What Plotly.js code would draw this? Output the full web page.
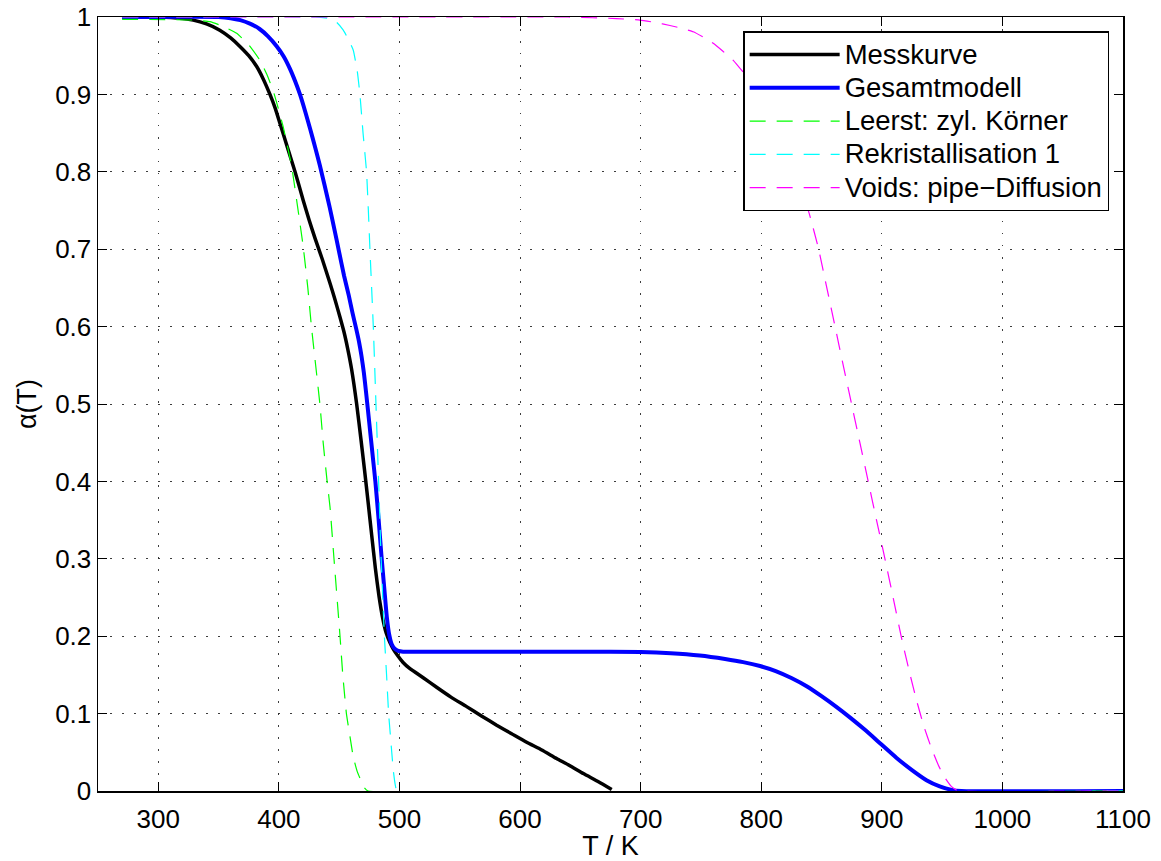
<!DOCTYPE html>
<html>
<head>
<meta charset="utf-8">
<script src="https://cdn.plot.ly/plotly-3.0.1.min.js"></script>
<style>html,body{margin:0;padding:0;background:#fff;}#chart{width:1161px;height:861px;}</style>
</head>
<body>
<div id="chart"></div>
<script>
// Messkurve (measured)
const messT = [270, 300, 320, 329, 340, 351, 360, 367.7, 375, 381.6, 387, 392.6, 397, 401, 407.8, 413.4, 420.2, 425, 430, 436, 442.4, 446.5, 450.7, 454, 457, 460.3, 464.5, 468, 471, 474, 477, 480, 483, 486, 489, 492, 495, 498, 503, 508.7, 520, 530.8, 543, 555.7, 568, 580.6, 593, 605.5, 618, 630.3, 641, 652.5, 665, 676];
const messA = [1, 1, 0.998, 0.996, 0.991, 0.983, 0.973, 0.962, 0.95, 0.936, 0.92, 0.9, 0.882, 0.862, 0.828, 0.8, 0.763, 0.738, 0.714, 0.687, 0.656, 0.635, 0.612, 0.593, 0.572, 0.545, 0.5, 0.455, 0.415, 0.373, 0.33, 0.288, 0.252, 0.224, 0.204, 0.192, 0.183, 0.176, 0.166, 0.158, 0.146, 0.134, 0.121, 0.109, 0.097, 0.085, 0.074, 0.063, 0.053, 0.042, 0.033, 0.0225, 0.012, 0.002];

// Gesamtmodell
const gesT = [270, 350, 360, 368, 376, 384, 391, 398, 404, 409.2, 413.5, 417.5, 422, 426, 430, 434, 438, 442, 446, 450, 454, 458, 461, 464, 466.5, 468.5, 470.5, 472.3, 474, 476, 478, 480, 482.5, 485, 487.5, 489.5, 491.5, 493.5, 496, 499, 503, 550, 600, 650, 700, 725, 749, 770, 785, 799, 812, 825, 838, 850, 862, 874, 886, 899, 912, 925, 937, 948, 958, 966, 1100];
const gesA = [1, 1, 0.9985, 0.996, 0.9915, 0.9845, 0.975, 0.9625, 0.949, 0.933, 0.917, 0.9, 0.877, 0.855, 0.832, 0.808, 0.782, 0.755, 0.726, 0.696, 0.666, 0.64, 0.618, 0.598, 0.58, 0.562, 0.54, 0.515, 0.49, 0.46, 0.43, 0.4, 0.355, 0.305, 0.26, 0.225, 0.202, 0.19, 0.184, 0.181, 0.18, 0.18, 0.18, 0.18, 0.1795, 0.178, 0.175, 0.1705, 0.1665, 0.1615, 0.155, 0.146, 0.135, 0.1225, 0.109, 0.0945, 0.079, 0.061, 0.043, 0.027, 0.014, 0.006, 0.0015, 0, 0];

// Leerst: zyl. Körner
const leerT = [270, 330, 342.9, 355, 365, 375, 384.3, 390, 395.4, 399.5, 403.6, 407.8, 410.6, 415.5, 420.2, 424, 427, 430.5, 434, 436.8, 440, 442.4, 445.7, 450.7, 453, 456, 459, 461.7, 465, 468, 471, 474, 1100];
const leerA = [0.997, 0.996, 0.994, 0.987, 0.979, 0.964, 0.944, 0.926, 0.904, 0.882, 0.858, 0.828, 0.807, 0.755, 0.703, 0.65, 0.6, 0.55, 0.5, 0.449, 0.4, 0.367, 0.3, 0.2, 0.15, 0.1, 0.07, 0.044, 0.025, 0.014, 0.004, 0, 0];

// Rekristallisation 1
const rekT = [270, 430, 442.4, 448, 453.4, 458, 461.7, 465, 467.2, 469.8, 472.7, 474.2, 475.5, 478.3, 480.5, 482.7, 484.8, 487.5, 489.3, 491, 492.3, 493.6, 495, 496.5, 498, 1100];
const rekA = [1, 1, 0.998, 0.993, 0.983, 0.97, 0.957, 0.93, 0.9, 0.85, 0.8, 0.75, 0.7, 0.6, 0.5, 0.4, 0.3, 0.2, 0.15, 0.1, 0.075, 0.05, 0.025, 0.008, 0, 0];

// Voids: pipe-Diffusion
const voidT = [270, 640, 660, 680, 699.4, 712, 724.3, 735, 743.6, 752, 760.2, 768, 776.8, 790, 800, 810, 820, 830, 840, 847.3, 854, 861.1, 868, 874.9, 881.8, 888.7, 895.6, 902.6, 909.5, 916, 923, 929, 935, 941, 947, 952, 957, 961, 964, 1100];
const voidA = [1, 1, 0.999, 0.998, 0.996, 0.993, 0.989, 0.985, 0.981, 0.974, 0.966, 0.956, 0.944, 0.919, 0.896, 0.868, 0.834, 0.795, 0.745, 0.702, 0.653, 0.601, 0.55, 0.5, 0.45, 0.4, 0.35, 0.3, 0.249, 0.2, 0.153, 0.116, 0.083, 0.056, 0.033, 0.018, 0.007, 0.002, 0, 0];

const names = ['Messkurve', 'Gesamtmodell', 'Leerst: zyl. Körner', 'Rekristallisation 1', 'Voids: pipe\u2212Diffusion'];
const xTicks = [300, 400, 500, 600, 700, 800, 900, 1000, 1100];
const yTicks = [0, 0.1, 0.2, 0.3, 0.4, 0.5, 0.6, 0.7, 0.8, 0.9, 1];
const yTickText = ['0', '0.1', '0.2', '0.3', '0.4', '0.5', '0.6', '0.7', '0.8', '0.9', '1'];

const FONT = 'Liberation Sans, Arial, Helvetica, sans-serif';
const dashPat = '16px,11px';
const legendName = n => '<span style="font-size:27.5px">' + n + '</span>';

const traces = [
  {x: messT, y: messA, name: legendName(names[0]), mode: 'lines', line: {color: '#000000', width: 3.5, shape: 'spline', smoothing: 0.5}},
  {x: gesT, y: gesA, name: legendName(names[1]), mode: 'lines', line: {color: '#0000ff', width: 4, shape: 'spline', smoothing: 0.5}},
  {x: leerT, y: leerA, name: legendName(names[2]), mode: 'lines', line: {color: '#00ff00', width: 1.2, dash: dashPat, shape: 'spline', smoothing: 0.4}},
  {x: rekT, y: rekA, name: legendName(names[3]), mode: 'lines', line: {color: '#00ffff', width: 1.2, dash: dashPat, shape: 'spline', smoothing: 0.4}},
  {x: voidT, y: voidA, name: legendName(names[4]), mode: 'lines', line: {color: '#ff00ff', width: 1.2, dash: dashPat, shape: 'spline', smoothing: 0.4}}
];

const axisCommon = {
  showline: true, linecolor: '#000', linewidth: 1.5, mirror: 'ticks',
  ticks: 'inside', ticklen: 9, tickwidth: 1, tickcolor: '#000',
  showgrid: true, gridcolor: 'rgba(40,40,40,0.9)', gridwidth: 1, griddash: '1.5px,10.5px',
  zeroline: false, tickfont: {family: FONT, size: 26, color: '#000'}
};

const layout = {
  width: 1161, height: 861,
  margin: {l: 98, r: 38, t: 17, b: 70},
  paper_bgcolor: '#fff', plot_bgcolor: '#fff',
  font: {family: FONT, color: '#000'},
  xaxis: Object.assign({}, axisCommon, {
    range: [250, 1100], tickvals: xTicks, ticklabelstandoff: 4,
    title: {text: 'T / K', font: {family: FONT, size: 27, color: '#000'}, standoff: 2}
  }),
  yaxis: Object.assign({}, axisCommon, {
    range: [0, 1], tickvals: yTicks, ticktext: yTickText,
    title: {text: '\u03b1(T)', font: {family: FONT, size: 27, color: '#000'}, standoff: 10}
  }),
  showlegend: true,
  legend: {
    x: 0.9865, y: 0.9815, xanchor: 'right', yanchor: 'top',
    bgcolor: '#fff', bordercolor: '#000', borderwidth: 1.5,
    font: {family: FONT, size: 23.3, color: '#000'},
    itemwidth: 90, tracegroupgap: 0
  }
};

Plotly.newPlot('chart', traces, layout, {displayModeBar: false, staticPlot: true});
</script>
</body>
</html>
